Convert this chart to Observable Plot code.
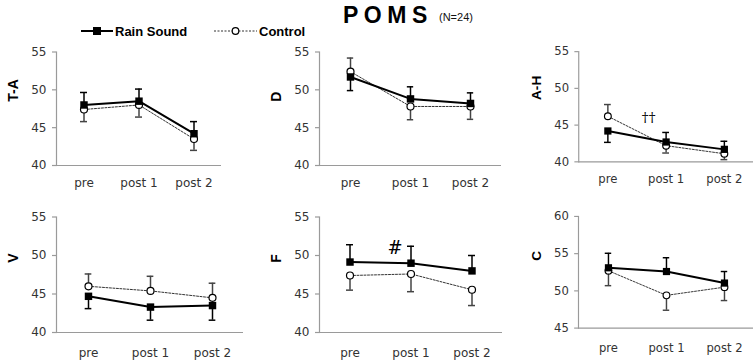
<!DOCTYPE html>
<html><head><meta charset="utf-8">
<script src="https://cdn.jsdelivr.net/npm/d3@7"></script>
<script src="https://cdn.jsdelivr.net/npm/@observablehq/plot@0.6"></script>
<style>
html,body{margin:0;padding:0;background:#fff;overflow:hidden;}
#wrap{position:relative;width:753px;height:362px;font-family:"Liberation Sans",Arial,sans-serif;}
.panel{position:absolute;}
.panel svg{background:transparent;overflow:visible;}
#header{position:absolute;left:0;top:0;}
</style></head><body>
<div id="wrap">
<svg id="header" width="753" height="42" font-family="Liberation Sans, Arial, sans-serif">
  <text x="343" y="23" font-size="23" font-weight="bold" letter-spacing="5.5" fill="#000">POMS</text>
  <text x="439" y="21" font-size="11" fill="#111">(N=24)</text>
  <line x1="81" y1="31" x2="113" y2="31" stroke="#000" stroke-width="2"/>
  <rect x="93" y="27" width="8" height="8" fill="#000"/>
  <text x="115" y="35.5" font-size="13" font-weight="bold" fill="#000">Rain Sound</text>
  <line x1="214" y1="31" x2="257" y2="31" stroke="#333" stroke-width="1" stroke-dasharray="2,1.5"/>
  <circle cx="235.5" cy="31" r="3.3" fill="#fff" stroke="#000" stroke-width="1.2"/>
  <text x="259" y="35.5" font-size="13" font-weight="bold" fill="#000">Control</text>
</svg>
</div>
<script>
// ---- data ----
const timepoints = ["pre", "post 1", "post 2"];
const seriesNames = ["Rain Sound", "Control"];
const panelLabels = ["T-A", "D", "A-H", "V", "F", "C"];

const rainTA = [48.0, 48.5, 44.2];
const rainTAErr = [1.65, 1.6, 1.6];
const ctrlTA = [47.4, 48.0, 43.5];
const ctrlTAErr = [1.6, 1.6, 1.5];

const rainD = [51.7, 48.8, 48.2];
const rainDErr = [1.8, 1.6, 1.4];
const ctrlD = [52.4, 47.8, 47.8];
const ctrlDErr = [1.8, 1.75, 1.7];

const rainAH = [44.2, 42.7, 41.7];
const rainAHErr = [1.55, 1.3, 1.1];
const ctrlAH = [46.2, 42.2, 41.1];
const ctrlAHErr = [1.6, 1.0, 0.8];

const rainV = [44.7, 43.3, 43.5];
const rainVErr = [1.6, 1.7, 1.9];
const ctrlV = [46.0, 45.4, 44.5];
const ctrlVErr = [1.6, 1.9, 1.9];

const rainF = [49.15, 49.0, 48.0];
const rainFErr = [2.25, 2.2, 2.0];
const ctrlF = [47.4, 47.6, 45.55];
const ctrlFErr = [1.9, 2.3, 2.05];

const rainC = [53.1, 52.6, 51.05];
const rainCErr = [1.95, 1.85, 1.55];
const ctrlC = [52.7, 49.4, 50.5];
const ctrlCErr = [2.0, 2.0, 1.8];

const yDomains = [[40, 55], [40, 55], [40, 55], [40, 55], [40, 55], [45, 60]];
const yTicks = [[40, 45, 50, 55], [40, 45, 50, 55], [40, 45, 50, 55], [40, 45, 50, 55], [40, 45, 50, 55], [45, 50, 55, 60]];

// annotations: panel index, anchor timepoint, value, text
const annotPanel = [2, 4];
const annotTime = ["post 1", "post 1"];
const annotValue = [46.0, 50.9];
const annotText = ["††", "#"];

// ---- layout ----
const layouts = [
  {left: 0,   top: 40,  width: 221, marginLeft: 56},
  {left: 260, top: 40,  width: 241, marginLeft: 59},
  {left: 520, top: 40,  width: 240, marginLeft: 60},
  {left: 0,   top: 200, width: 243, marginLeft: 56},
  {left: 260, top: 200, width: 242, marginLeft: 59},
  {left: 520, top: 200, width: 241, marginLeft: 60}
];
const rowStyle = {
  40: {marginTop: 11.5, marginBottom: 35, tickPad: 13, labelDy: -7},
  200: {marginTop: 16.5, marginBottom: 28, tickPad: 16, labelDy: -12}
};
const annotDx = [-18, -16];
const annotFont = [14, 18];
const axisGray = "#9a9a9a";

const panels = [
  [rainTA, rainTAErr, ctrlTA, ctrlTAErr],
  [rainD, rainDErr, ctrlD, ctrlDErr],
  [rainAH, rainAHErr, ctrlAH, ctrlAHErr],
  [rainV, rainVErr, ctrlV, ctrlVErr],
  [rainF, rainFErr, ctrlF, ctrlFErr],
  [rainC, rainCErr, ctrlC, ctrlCErr]
];

const wrap = document.getElementById("wrap");
panels.forEach(([rain, rainErr, ctrl, ctrlErr], p) => {
  const L = layouts[p];
  const M = rowStyle[L.top];
  const rainRows = timepoints.map((t, i) => {
    const up = rain[i] >= ctrl[i];
    return {t, v: rain[i], end: up ? rain[i] + rainErr[i] : rain[i] - rainErr[i]};
  });
  const ctrlRows = timepoints.map((t, i) => {
    const up = ctrl[i] > rain[i];
    return {t, v: ctrl[i], end: up ? ctrl[i] + ctrlErr[i] : ctrl[i] - ctrlErr[i]};
  });
  const bw = (L.width - L.marginLeft) / timepoints.length;
  const inset = (bw - 7) / 2;
  const annots = annotPanel.map((ap, k) => ({ap, t: annotTime[k], v: annotValue[k], s: annotText[k], k})).filter(a => a.ap === p);

  const marks = [
    Plot.frame({anchor: "left", stroke: axisGray, strokeWidth: 1.2}),
    Plot.ruleY([yDomains[p][0]], {stroke: axisGray, strokeWidth: 1.2}),
    Plot.axisY({ticks: yTicks[p], tickSize: 4, tickPadding: 6, stroke: axisGray, strokeWidth: 1.2, fill: "#333", fontSize: 12, fontFamily: "DejaVu Sans", label: null}),
    Plot.axisX({tickSize: 0, tickPadding: M.tickPad, fill: "#333", fontSize: 12, fontFamily: "DejaVu Sans", label: null}),
    Plot.line(ctrlRows, {x: "t", y: "v", stroke: "#333", strokeWidth: 1, strokeDasharray: "2,1.5"}),
    Plot.line(rainRows, {x: "t", y: "v", stroke: "#000", strokeWidth: 2}),
    Plot.ruleX(ctrlRows, {x: "t", y1: "v", y2: "end", stroke: "#444", strokeWidth: 1.5}),
    Plot.tickY(ctrlRows, {x: "t", y: "end", stroke: "#444", strokeWidth: 1.5, insetLeft: inset, insetRight: inset}),
    Plot.ruleX(rainRows, {x: "t", y1: "v", y2: "end", stroke: "#000", strokeWidth: 1.5}),
    Plot.tickY(rainRows, {x: "t", y: "end", stroke: "#000", strokeWidth: 1.5, insetLeft: inset, insetRight: inset}),
    Plot.dot(ctrlRows, {x: "t", y: "v", symbol: "circle", r: 3.5, fill: "#fff", stroke: "#000", strokeWidth: 1.2}),
    Plot.dot(rainRows, {x: "t", y: "v", symbol: "square", r: 4.2, fill: "#000", stroke: "none"}),
    Plot.text([panelLabels[p]], {text: d => d, frameAnchor: "left", dx: -43, dy: M.labelDy, rotate: -90, fontWeight: "bold", fontSize: 14, fontFamily: "Liberation Sans", fill: "#000"})
  ];
  annots.forEach(a => {
    marks.push(Plot.text([a], {x: "t", y: "v", text: "s", dx: annotDx[a.k], fontSize: annotFont[a.k], fontFamily: "DejaVu Serif", fill: "#000"}));
  });

  const chart = Plot.plot({
    width: L.width,
    height: 160,
    marginLeft: L.marginLeft,
    marginRight: 0,
    marginTop: M.marginTop,
    marginBottom: M.marginBottom,
    style: {background: "transparent", overflow: "visible"},
    x: {type: "band", domain: timepoints, padding: 0},
    y: {domain: yDomains[p]},
    marks
  });
  const div = document.createElement("div");
  div.className = "panel";
  div.style.left = L.left + "px";
  div.style.top = L.top + "px";
  div.appendChild(chart);
  wrap.appendChild(div);
});
</script>
</body></html>
